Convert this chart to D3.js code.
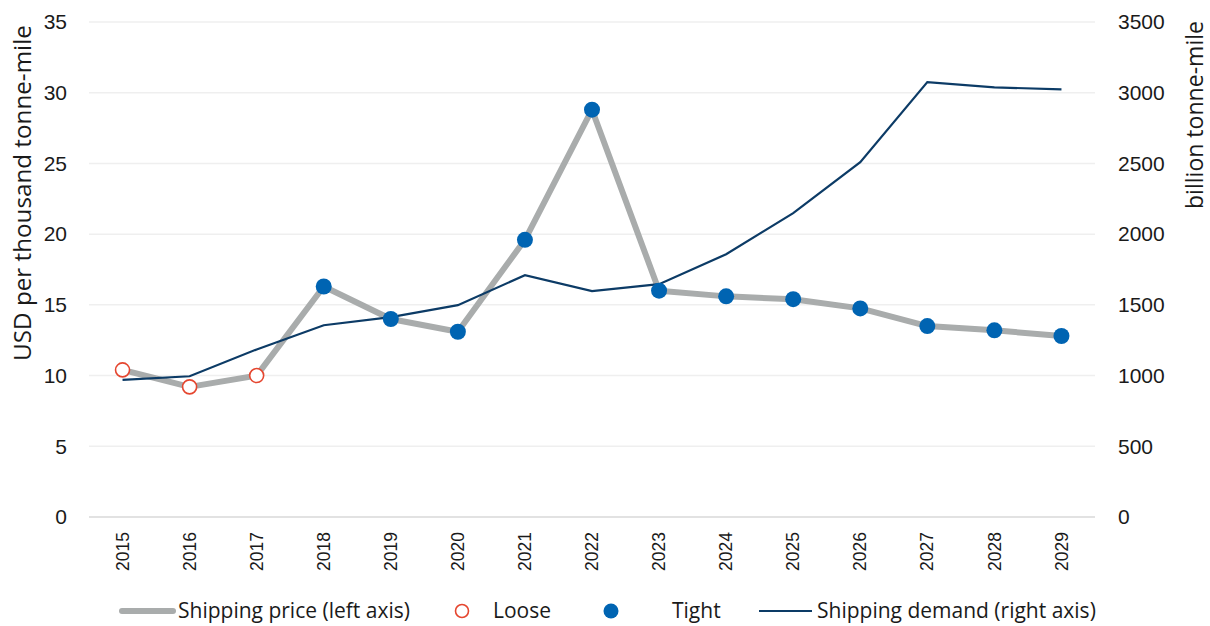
<!DOCTYPE html>
<html>
<head>
<meta charset="utf-8">
<script src="https://cdn.jsdelivr.net/npm/d3@7"></script>
<style>
  html, body { margin: 0; padding: 0; background: #fff; }
  svg { display: block; font-family: "Open Sans", Lato, sans-serif; }
</style>
</head>
<body>
<svg id="chart" width="1210" height="626"></svg>
<script>
// Years on the category axis
const years = ["2015","2016","2017","2018","2019","2020","2021","2022","2023","2024","2025","2026","2027","2028","2029"];
// Shipping price, USD per thousand tonne-mile (left axis)
const price = [10.4, 9.2, 10.0, 16.3, 14.0, 13.1, 19.6, 28.8, 16.0, 15.6, 15.4, 14.75, 13.5, 13.2, 12.8];
// Market state for each year
const state = ["Loose","Loose","Loose","Tight","Tight","Tight","Tight","Tight","Tight","Tight","Tight","Tight","Tight","Tight","Tight"];
// Shipping demand, billion tonne-mile (right axis)
const demand = [970, 995, 1185, 1356, 1413, 1498, 1710, 1597, 1646, 1858, 2148, 2509, 3075, 3038, 3024];
// Axis ticks
const leftTicks = [0, 5, 10, 15, 20, 25, 30, 35];
const rightTicks = [0, 500, 1000, 1500, 2000, 2500, 3000, 3500];

const svg = d3.select("#chart");
const m = { left: 89, right: 1095, top: 22, bottom: 517 };

const x = d3.scaleBand().domain(years).range([m.left, m.right]);
const yL = d3.scaleLinear().domain([0, 35]).range([m.bottom, m.top]);
const yR = d3.scaleLinear().domain([0, 3500]).range([m.bottom, m.top]);
const cx = d => x(d) + x.bandwidth() / 2;

const textColor = "#1a1a1a";
const fs = 21;

// Scale a text element's font so its run length equals the given width
function fitText(sel, width) {
  const base = parseFloat(sel.attr("font-size"));
  const len = sel.node().getComputedTextLength();
  if (len > 0) sel.attr("font-size", (base * width / len).toFixed(2));
  return sel;
}

// Gridlines
svg.append("g").selectAll("line").data(leftTicks).join("line")
  .attr("x1", m.left).attr("x2", m.right)
  .attr("y1", d => yL(d)).attr("y2", d => yL(d))
  .attr("stroke", d => d === 0 ? "#d9d9d9" : "#efefef")
  .attr("stroke-width", 1.5);

// Left axis labels
const axL = svg.append("g").attr("transform", `translate(${m.left - 22},0)`)
  .call(d3.axisLeft(yL).tickValues(leftTicks).tickSize(0).tickPadding(0));
axL.select(".domain").remove();
axL.selectAll("text").attr("font-size", fs).attr("fill", textColor).attr("font-family", null);

// Right axis labels
const axR = svg.append("g").attr("transform", `translate(${m.right + 23},0)`)
  .call(d3.axisRight(yR).tickValues(rightTicks).tickFormat(d3.format("d")).tickSize(0).tickPadding(0));
axR.select(".domain").remove();
axR.selectAll("text").attr("font-size", fs).attr("fill", textColor).attr("font-family", null);

// Category labels, rotated
const axX = svg.append("g").attr("transform", `translate(0,${m.bottom + 15})`)
  .call(d3.axisBottom(x).tickSize(0).tickPadding(0));
axX.select(".domain").remove();
axX.selectAll("text")
  .attr("font-size", 17.5).attr("fill", textColor).attr("font-family", null)
  .attr("transform", "rotate(-90)")
  .attr("text-anchor", "end").attr("dy", "0.35em").attr("y", 0).attr("x", 0);

// Axis titles
const titleL = svg.append("text")
  .attr("transform", `translate(31,193) rotate(-90)`)
  .attr("text-anchor", "middle").attr("font-size", fs).attr("fill", textColor)
  .text("USD per thousand tonne-mile");
fitText(titleL, 336);
const titleR = svg.append("text")
  .attr("transform", `translate(1203,115) rotate(-90)`)
  .attr("text-anchor", "middle").attr("font-size", fs).attr("fill", textColor)
  .text("billion tonne-mile");
fitText(titleR, 188);

// Shipping price line
const priceLine = d3.line().x((d, i) => cx(years[i])).y(d => yL(d));
svg.append("path").datum(price)
  .attr("d", priceLine).attr("fill", "none")
  .attr("stroke", "#a9acac").attr("stroke-width", 6).attr("stroke-linejoin", "round");

// Shipping demand line
const demandLine = d3.line().x((d, i) => cx(years[i])).y(d => yR(d));
svg.append("path").datum(demand)
  .attr("d", demandLine).attr("fill", "none")
  .attr("stroke", "#0c3b66").attr("stroke-width", 2.2);

// Market-state markers
const pts = price.map((v, i) => ({ year: years[i], v, s: state[i] }));
svg.append("g").selectAll("circle").data(pts).join("circle")
  .attr("cx", d => cx(d.year)).attr("cy", d => yL(d.v))
  .attr("r", d => d.s === "Tight" ? 8 : 7)
  .attr("fill", d => d.s === "Tight" ? "#0064b2" : "#fff")
  .attr("stroke", d => d.s === "Tight" ? "none" : "#e5462f")
  .attr("stroke-width", 1.6);

// Legend
const ly = 611;
const lg = svg.append("g").attr("font-size", fs).attr("fill", textColor);
lg.append("line").attr("x1", 122).attr("x2", 173).attr("y1", ly).attr("y2", ly)
  .attr("stroke", "#a9acac").attr("stroke-width", 6).attr("stroke-linecap", "round");
lg.append("text").attr("x", 178).attr("y", ly).attr("dy", "0.35em").text("Shipping price (left axis)");
lg.append("circle").attr("cx", 462).attr("cy", ly).attr("r", 6.5)
  .attr("fill", "#fff").attr("stroke", "#e5462f").attr("stroke-width", 1.6);
lg.append("text").attr("x", 493).attr("y", ly).attr("dy", "0.35em").text("Loose");
lg.append("circle").attr("cx", 611).attr("cy", ly).attr("r", 7.5).attr("fill", "#0064b2");
lg.append("text").attr("x", 672).attr("y", ly).attr("dy", "0.35em").text("Tight");
lg.append("line").attr("x1", 759).attr("x2", 812).attr("y1", ly).attr("y2", ly)
  .attr("stroke", "#0c3b66").attr("stroke-width", 2.2);
lg.append("text").attr("x", 817).attr("y", ly).attr("dy", "0.35em").text("Shipping demand (right axis)");
</script>
</body>
</html>
